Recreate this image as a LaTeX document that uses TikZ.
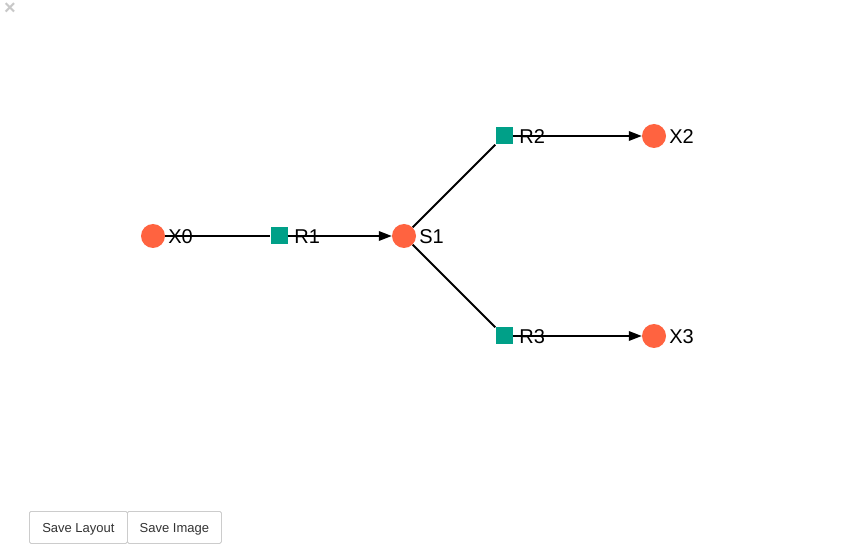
\documentclass[tikz,border=0pt]{standalone}
\usepackage{fontspec}
\setmainfont{Liberation Sans}
\usetikzlibrary{arrows.meta}
\definecolor{species}{RGB}{255,99,64}
\definecolor{reaction}{RGB}{0,160,136}
\definecolor{btnborder}{RGB}{204,204,204}
\definecolor{btntext}{RGB}{51,51,51}
\definecolor{closegray}{RGB}{200,200,200}
\tikzset{
  x=1pt, y=-1pt,
  labelfont/.style={inner sep=0pt, yshift=-1pt, font=\fontsize{20}{24}\selectfont},
  speciesnode/.style={circle, fill=species, minimum size=24pt, inner sep=0pt,
    label={[labelfont, label distance=3pt]east:#1}},
  reactionnode/.style={rectangle, fill=reaction, minimum size=17pt, inner sep=0pt,
    label={[labelfont, label distance=6.5pt]east:#1}},
  edge/.style={line width=1.8pt, black},
  flow/.style={edge, -{Triangle[length=13pt, width=9.5pt]}},
  btn/.style={draw=btnborder, line width=0.8pt, rounded corners=1.5pt, text=btntext,
    font=\fontsize{13}{15}\selectfont, text height=12pt, text depth=2pt,
    minimum height=32pt, inner sep=0pt, anchor=north west}
}
\begin{document}
\begin{tikzpicture}
\useasboundingbox[fill=white] (0,0) rectangle (860,545);

% network nodes
\node[speciesnode=X0] (X0) at (153,236) {};
\node[reactionnode=R1] (R1) at (279,236) {};
\node[speciesnode=S1] (S1) at (404,236) {};
\node[reactionnode=R2] (R2) at (504,136) {};
\node[reactionnode=R3] (R3) at (504,336) {};
\node[speciesnode=X2] (X2) at (654,136) {};
\node[speciesnode=X3] (X3) at (654,336) {};

% connectors
\draw[edge] (X0) -- (R1);
\draw[flow] (R1) -- (S1);
\draw[edge] (S1) -- (R2);
\draw[edge] (S1) -- (R3);
\draw[flow] (R2) -- (X2);
\draw[flow] (R3) -- (X3);

% close mark
\node[text=closegray, font=\fontsize{20}{20}\bfseries\selectfont, inner sep=0pt] (close) at (10,9) {×};

% buttons
\node[btn, minimum width=98pt] (saveLayout) at (29,511) {Save Layout};
\node[btn, minimum width=94pt] (saveImage) at (127,511) {Save Image};
\end{tikzpicture}
\end{document}
